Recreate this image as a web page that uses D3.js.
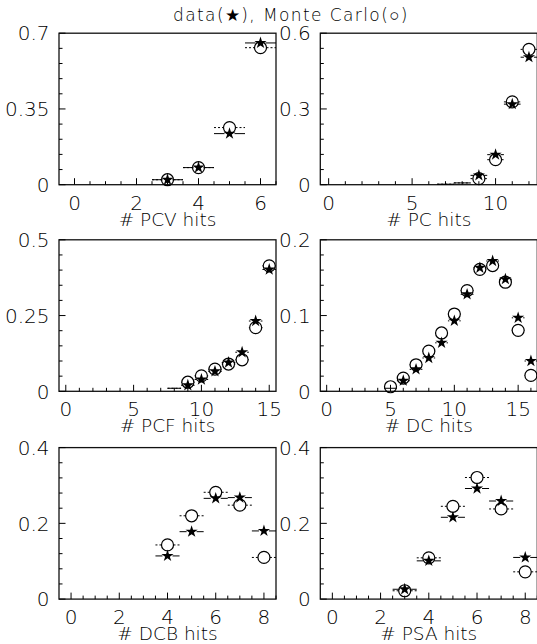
<!DOCTYPE html>
<html><head><meta charset="utf-8">
<script src="https://cdn.jsdelivr.net/npm/d3@7"></script>
<style>body{margin:0;background:#fff}svg{display:block}</style>
</head><body>
<svg id="c" width="537" height="644"></svg>
<script>
// ---- data ----
const axisTitles = ["# PCV hits", "# PC hits", "# PCF hits", "# DC hits", "# DCB hits", "# PSA hits"];
const pcvBins = [3, 4, 5, 6];
const pcvData = [0.023, 0.079, 0.236, 0.655];
const pcvMC   = [0.023, 0.079, 0.264, 0.633];
const pcBins = [7, 8, 9, 10, 11, 12];
const pcData = [0.002, 0.007, 0.037, 0.119, 0.319, 0.505];
const pcMC   = [0.002, 0.007, 0.024, 0.099, 0.328, 0.536];
const pcfBins = [8, 9, 10, 11, 12, 13, 14, 15];
const pcfData = [0.010, 0.020, 0.039, 0.066, 0.095, 0.129, 0.232, 0.402];
const pcfMC   = [0.010, 0.030, 0.051, 0.073, 0.090, 0.104, 0.210, 0.414];
const dcBins = [5, 6, 7, 8, 9, 10, 11, 12, 13, 14, 15, 16];
const dcData = [0.004, 0.014, 0.029, 0.044, 0.064, 0.093, 0.128, 0.163, 0.172, 0.148, 0.097, 0.040];
const dcMC   = [0.006, 0.0175, 0.035, 0.053, 0.077, 0.102, 0.133, 0.161, 0.166, 0.144, 0.0805, 0.021];
const dcbBins = [4, 5, 6, 7, 8];
const dcbData = [0.114, 0.178, 0.266, 0.268, 0.180];
const dcbMC   = [0.143, 0.220, 0.282, 0.248, 0.110];
const psaBins = [3, 4, 5, 6, 7, 8];
const psaData = [0.026, 0.101, 0.216, 0.292, 0.259, 0.110];
const psaMC   = [0.022, 0.109, 0.245, 0.321, 0.238, 0.072];
const xMaxBins = [6, 12, 15, 16, 8, 8];
const yMax = [0.7, 0.6, 0.5, 0.2, 0.4, 0.4];
const yTickLabels = [["0","0.35","0.7"], ["0","0.3","0.6"], ["0","0.25","0.5"], ["0","0.1","0.2"], ["0","0.2","0.4"], ["0","0.2","0.4"]];
const xTickLabels = [["0","2","4","6"], ["0","5","10"], ["0","5","10","15"], ["0","5","10","15"], ["0","2","4","6","8"], ["0","2","4","6","8"]];
const xMinorStep = [0.5, 1, 1, 1, 0.5, 0.5];
const titleText = "data(\u2605), Monte Carlo(\u25CB)";

const panels = [
  {bins: pcvBins, data: pcvData, mc: pcvMC},
  {bins: pcBins, data: pcData, mc: pcMC},
  {bins: pcfBins, data: pcfData, mc: pcfMC},
  {bins: dcBins, data: dcData, mc: dcMC},
  {bins: dcbBins, data: dcbData, mc: dcbMC},
  {bins: psaBins, data: psaData, mc: psaMC}
];

// ---- layout ----
const FONT = "'DejaVu Sans', sans-serif";
const colLeft = [59, 320.3], frameW = 217;
const rowTop = [33.2, 239.8, 447.6], frameH = 151.5;
const svg = d3.select("#c");

svg.append("text").attr("x", 173).attr("y", 21)
  .attr("font-family", FONT).attr("font-size", 17).attr("font-weight", 200)
  .attr("letter-spacing", 1.4).attr("fill", "#000").text(titleText);

const star = d3.symbol().type(d3.symbolStar).size(46);

panels.forEach((p, i) => {
  const L = colLeft[i % 2], T = rowTop[Math.floor(i / 2)];
  const x = d3.scaleLinear().domain([-0.5, xMaxBins[i] + 0.5]).range([L, L + frameW]);
  const y = d3.scaleLinear().domain([0, yMax[i]]).range([T + frameH, T]);
  const g = svg.append("g");
  const B = T + frameH;

  // frame
  g.append("rect").attr("x", L).attr("y", T).attr("width", frameW).attr("height", frameH)
    .attr("fill", "none").attr("stroke", "#111").attr("stroke-width", 1.3);

  // x ticks
  const xMajorVals = xTickLabels[i].map(Number);
  const minorX = d3.range(0, xMaxBins[i] + 0.5 + 1e-9, xMinorStep[i]);
  g.selectAll(null).data(minorX).join("line")
    .attr("x1", d => x(d)).attr("x2", d => x(d))
    .attr("y1", B).attr("y2", d => B - (xMajorVals.some(v => Math.abs(v - d) < 1e-9) ? 6.5 : 3.5))
    .attr("stroke", "#000").attr("stroke-width", 1);
  g.selectAll(null).data(xTickLabels[i]).join("text")
    .attr("x", d => x(+d)).attr("y", B + 25).attr("text-anchor", "middle")
    .attr("font-family", FONT).attr("font-size", 20).attr("font-weight", 200).text(d => d);

  // y ticks
  const yMajorVals = yTickLabels[i].map(Number);
  const yStep = yMajorVals[1] / 5;
  const minorY = d3.range(0, 11).map(k => k * yStep);
  g.selectAll(null).data(minorY).join("line")
    .attr("y1", d => y(d)).attr("y2", d => y(d))
    .attr("x1", L).attr("x2", (d, k) => L + (k % 5 === 0 ? 6.5 : 3.5))
    .attr("stroke", "#000").attr("stroke-width", 1);
  g.selectAll(null).data(yTickLabels[i]).join("text")
    .attr("x", L - 9.5).attr("y", d => y(+d)).attr("dy", "0.36em").attr("text-anchor", "end")
    .attr("font-family", FONT).attr("font-size", 20).attr("font-weight", 200).text(d => d);

  // axis title
  g.append("text").attr("x", L + frameW / 2).attr("y", B + 41).attr("text-anchor", "middle")
    .attr("font-family", FONT).attr("font-size", 18.5).attr("font-weight", 200).text(axisTitles[i]);

  // series
  function drawSeries(vals, isMC) {
    const gap = isMC ? 6 : 5;
    p.bins.forEach((b, k) => {
      const v = vals[k];
      const yc = y(v), xc = x(b), x0 = x(b - 0.5), x1 = x(b + 0.5);
      const showMarker = (B - yc) >= 4;
      const segs = showMarker ? [[x0, xc - gap], [xc + gap, x1]] : [[x0, x1]];
      segs.forEach(s => {
        g.append("line").attr("x1", s[0]).attr("x2", s[1]).attr("y1", yc).attr("y2", yc)
          .attr("stroke", "#000").attr("stroke-width", 1)
          .attr("stroke-dasharray", isMC ? "2,2" : null);
      });
      if (showMarker) {
        if (isMC) {
          g.append("circle").attr("cx", xc).attr("cy", yc).attr("r", 6)
            .attr("fill", "none").attr("stroke", "#000").attr("stroke-width", 1.2);
        } else {
          g.append("path").attr("d", star()).attr("transform", `translate(${xc},${yc})`)
            .attr("fill", "#000");
        }
      }
    });
  }
  drawSeries(p.mc, true);
  drawSeries(p.data, false);
});
</script>
</body></html>
